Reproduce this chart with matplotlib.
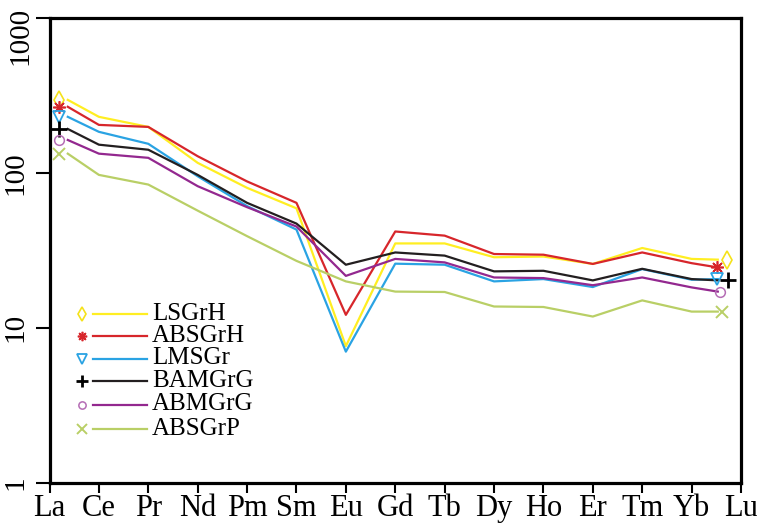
import numpy as np
import matplotlib
matplotlib.use("Agg")
import matplotlib.pyplot as plt
from matplotlib.ticker import NullLocator, FixedLocator

plt.rcParams['font.family'] = ['Liberation Serif', 'DejaVu Serif']

elements = ["La", "Ce", "Pr", "Nd", "Pm", "Sm", "Eu", "Gd", "Tb", "Dy", "Ho", "Er", "Tm", "Yb", "Lu"]

LSGrH  = [296, 230, 198, 116, 80, 59, 7.6, 35.0, 35.0, 28.5, 28.8, 25.8, 32.7, 27.8, 27.5]
ABSGrH = [267, 204, 198, 128, 88, 64, 12.1, 41.8, 39.3, 29.9, 29.6, 25.8, 30.6, 26.1, 24.5]
LMSGr  = [230, 184, 154, 95, 61, 43, 7.0, 25.9, 25.5, 19.9, 20.6, 18.3, 23.9, 20.4, 20.6]
BAMGrG = [192, 152, 141, 97, 64, 47, 25.5, 30.6, 29.2, 23.1, 23.3, 20.2, 24.0, 20.6, 20.2]
ABMGrG = [163, 133, 125, 82, 60, 45, 21.6, 27.8, 26.4, 21.1, 20.9, 18.8, 21.1, 18.2, 17.1]
ABSGrP = [133, 97, 84, 57, 39, 27, 19.9, 17.1, 17.0, 13.7, 13.6, 11.8, 15.0, 12.7, 12.7]

series_names = ["LSGrH", "ABSGrH", "LMSGr", "BAMGrG", "ABMGrG", "ABSGrP"]
series_vals = [LSGrH, ABSGrH, LMSGr, BAMGrG, ABMGrG, ABSGrP]

line_colors = ["#FFEE22", "#D7262B", "#2AA3E3", "#231F20", "#93288F", "#B9CF66"]
mk_colors   = ["#F5E21A", "#D7262B", "#2AA3E3", "#000000", "#B56DB5", "#B9CF66"]
markers = ["d", (8, 2, 0), "v", "+", "o", "x"]
mk_sizes = [9, 9, 9, 12, 7, 9]
mk_filled = [False, True, False, True, False, True]
mk_ew = [1.2, 1.2, 1.3, 2.0, 1.1, 1.4]
lu_marker_x = [13.72, 13.52, 13.52, 13.74, 13.58, 13.62]

W, H = 757, 529
fig = plt.figure(figsize=(W / 100, H / 100), dpi=100)
L, R, T, B = 49.5, 741, 18, 482.5
ax = fig.add_axes([L / W, (H - B) / H, (R - L) / W, (B - T) / H])

x = np.arange(len(elements), dtype=float)
x_line = x.copy()
x_line[0] = 0.37
x_line[-1] = 13.53

for vals, lc, mc, mk, ms, filled, ew, lux in zip(series_vals, line_colors, mk_colors,
                                                markers, mk_sizes, mk_filled, mk_ew, lu_marker_x):
    ax.plot(x_line, vals, color=lc, lw=1.6, zorder=3)
    ax.plot([0.2, lux], [vals[0], vals[-1]], linestyle='none', marker=mk, markersize=ms,
            markerfacecolor=(mc if filled else 'none'), markeredgecolor=mc,
            markeredgewidth=ew, zorder=4, clip_on=False)

ax.set_yscale('log')
ax.set_ylim(1, 1000)
ax.set_xlim(0, 14)
ax.yaxis.set_major_locator(FixedLocator([1, 10, 100, 1000]))
ax.yaxis.set_minor_locator(NullLocator())
ax.set_yticklabels(['1', '10', '100', ''])
ax.set_xticks(x)
ax.set_xticklabels(elements)

for sp in ax.spines.values():
    sp.set_linewidth(2.3)
    sp.set_color('black')

ax.tick_params(axis='y', direction='out', length=10, width=1.5, pad=5,
               labelsize=21, labelrotation=90)
ax.tick_params(axis='x', direction='out', length=7, width=1.5, pad=1, labelsize=22)
for lab in ax.get_yticklabels():
    lab.set_verticalalignment('center')

fig.text(33 / W, 1 - 36 / H, '1000', rotation=90, ha='right', va='center', fontsize=21)

# legend drawn manually
def fx(px):
    return (px - L) / (R - L)

def fy(py):
    return (B - py) / (B - T)

row_y = [313.5, 336, 358.5, 381, 404.5, 429]
for name, lc, mc, mk, ms, filled, ew, py in zip(series_names, line_colors, mk_colors, markers,
                                               mk_sizes, mk_filled, mk_ew, row_y):
    yy = fy(py)
    ax.plot([fx(82)], [yy], transform=ax.transAxes, linestyle='none', marker=mk,
            markersize=ms * 0.75, markerfacecolor=(mc if filled else 'none'),
            markeredgecolor=mc, markeredgewidth=ew, zorder=5)
    ax.plot([fx(93), fx(147)], [yy, yy], transform=ax.transAxes, color=lc, lw=1.6, zorder=5)
    ax.text(fx(152), yy, name, transform=ax.transAxes, ha='left', va='center',
            fontsize=18, zorder=5)

fig.savefig('out.png', dpi=100)
